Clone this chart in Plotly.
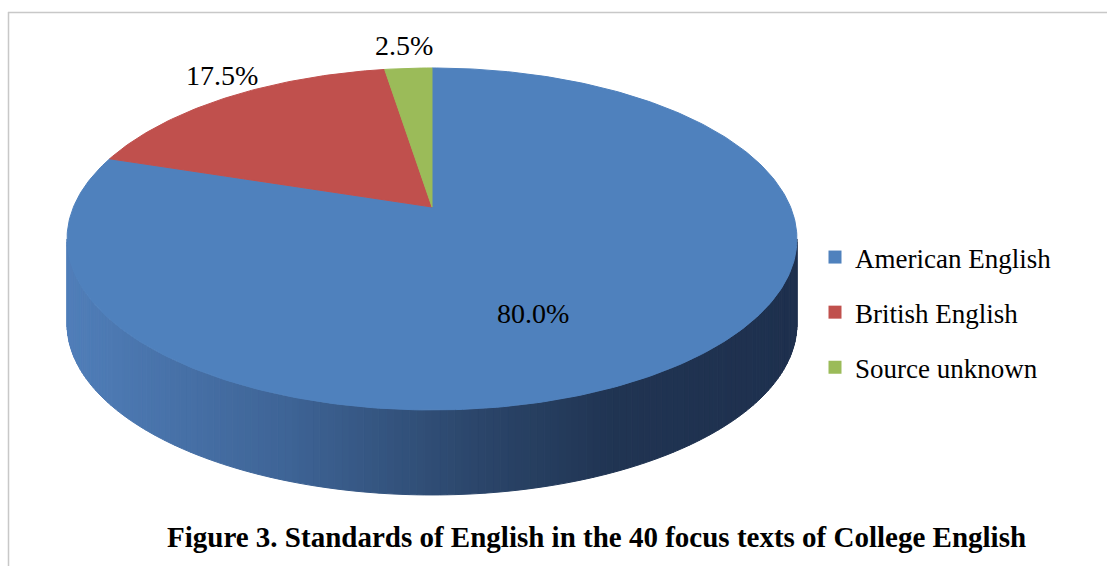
import numpy as np
import plotly.graph_objects as go

# ---------------- data ----------------
categories = ["American English", "British English", "Source unknown"]
values = [80.0, 17.5, 2.5]
label_text = ["80.0%", "17.5%", "2.5%"]
title_text = "Figure 3. Standards of English in the 40 focus texts of College English"

# ---------------- style / layout constants ----------------
colors = ["#4F81BD", "#C0504D", "#9BBB59"]
W, H = 1107, 566
CX, CY = 432, 207          # apex of the pie (pixel space)
RX, RY = 358.5, 165        # radii of projected disc
K = 0.187                  # perspective strength
DEPTH = 85                 # thickness of the pie
FONT = "Liberation Serif"
# label anchor positions (layout, pixel space)
label_pos = [(533, 313), (222, 75), (404, 45)]
# side gradient stops (fraction across width -> rgb)
grad_stops = [(0.0, (80, 126, 185)), (0.3, (62, 100, 150)), (0.55, (44, 71, 108)),
              (0.75, (32, 52, 82)), (1.0, (30, 48, 78))]


def proj(theta, r=1.0):
    u = r * np.sin(theta)
    v = r * np.cos(theta)
    den = 1 + K * v
    return CX + RX * u / den, CY - RY * v / den


def grad(t):
    for (t0, c0), (t1, c1) in zip(grad_stops[:-1], grad_stops[1:]):
        if t <= t1:
            f = (t - t0) / (t1 - t0) if t1 > t0 else 0
            c = [round(a + (b - a) * f) for a, b in zip(c0, c1)]
            return "rgb(%d,%d,%d)" % tuple(c)
    return "rgb(%d,%d,%d)" % grad_stops[-1][1]


fig = go.Figure()

# ---- side wall (visible front part) ----
th_r = np.arccos(-K)
th_l = 2 * np.pi - th_r
N = 160
ths = np.linspace(th_r, th_l, N + 1)
xs_all, _ = proj(ths)
xmin, xmax = xs_all.min(), xs_all.max()
for i in range(N):
    x0, y0 = proj(ths[i])
    x1, y1 = proj(ths[i + 1])
    t = ((x0 + x1) / 2 - xmin) / (xmax - xmin)
    col = grad(t)
    fig.add_trace(go.Scatter(
        x=[x0, x1, x1, x0, x0], y=[y0, y1, y1 + DEPTH, y0 + DEPTH, y0],
        mode="lines", fill="toself", fillcolor=col,
        line=dict(color=col, width=1), hoverinfo="skip", showlegend=False))

# ---- top face slices ----
total = sum(values)
start = 0.0
for cat, val, col in zip(categories, values, colors):
    a0 = 2 * np.pi * start / total
    a1 = 2 * np.pi * (start + val) / total
    n = max(8, int(400 * val / total))
    tt = np.linspace(a0, a1, n)
    px, py = proj(tt)
    xs = [CX] + list(px) + [CX]
    ys = [CY] + list(py) + [CY]
    fig.add_trace(go.Scatter(
        x=xs, y=ys, mode="lines", fill="toself", fillcolor=col,
        line=dict(color=col, width=1), name=cat, hoverinfo="name",
        showlegend=False))
    start += val

# ---- legend entries ----
for i, (cat, col) in enumerate(zip(categories, colors)):
    fig.add_trace(go.Scatter(
        x=[None], y=[None], mode="markers", name=cat, legendgroup=str(i),
        marker=dict(symbol="square", size=13, color=col)))

# ---- data labels ----
for txt, (lx, ly) in zip(label_text, label_pos):
    fig.add_annotation(x=lx, y=ly, text=txt, showarrow=False,
                       font=dict(family=FONT, size=28, color="black"),
                       xanchor="center", yanchor="middle")

# ---- title ----
fig.add_annotation(x=596, y=537, text="<b>%s</b>" % title_text, showarrow=False,
                   font=dict(family=FONT, size=29, color="black"),
                   xanchor="center", yanchor="middle")

# ---- chart border ----
fig.add_shape(type="line", x0=8, x1=W, y0=12.5, y1=12.5,
              line=dict(color="#C8C8C8", width=1.5))
fig.add_shape(type="line", x0=8.5, x1=8.5, y0=12, y1=H,
              line=dict(color="#C8C8C8", width=1.5))

fig.update_layout(
    width=W, height=H, margin=dict(l=0, r=0, t=0, b=0),
    paper_bgcolor="white", plot_bgcolor="white",
    xaxis=dict(range=[0, W], visible=False, fixedrange=True),
    yaxis=dict(range=[H, 0], visible=False, fixedrange=True),
    showlegend=True,
    legend=dict(x=815 / W, xanchor="left", y=1 - 233 / H, yanchor="top",
                font=dict(family=FONT, size=27, color="black"),
                tracegroupgap=17, bgcolor="rgba(0,0,0,0)"),
)

fig.write_html("out.html")
